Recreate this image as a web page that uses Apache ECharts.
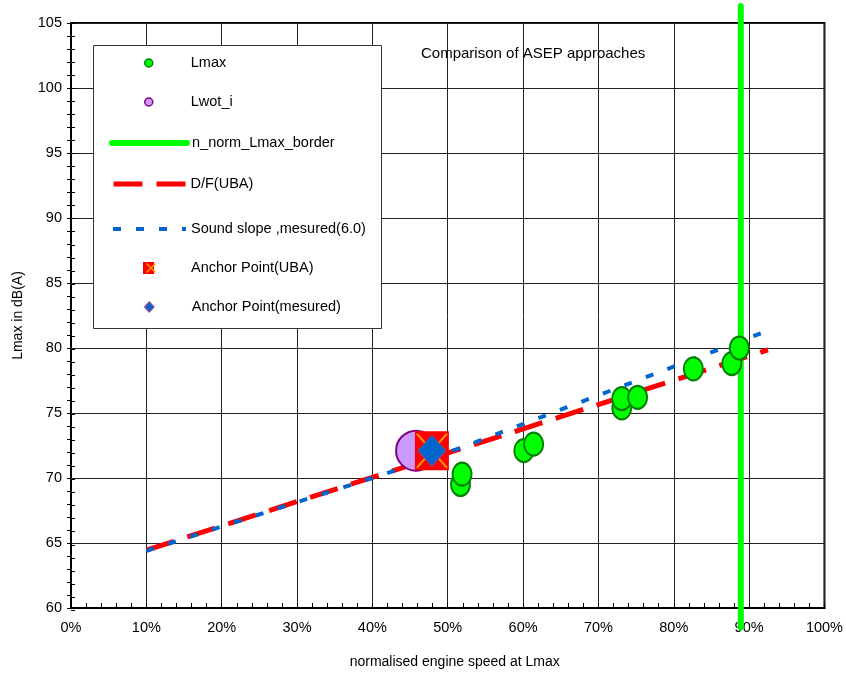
<!DOCTYPE html>
<html>
<head>
<meta charset="utf-8">
<script src="https://cdn.jsdelivr.net/npm/echarts@6/dist/echarts.min.js"></script>
<style>
  html, body { margin: 0; padding: 0; background: #fff; }
  #chart { width: 846px; height: 674px; }
</style>
</head>
<body>
<div id="chart"></div>
<script>
// x tick labels (normalised engine speed, %)
const xTickLabels = ['0%', '10%', '20%', '30%', '40%', '50%', '60%', '70%', '80%', '90%', '100%'];

// measured Lmax points [speed %, dB(A)]
const lmaxPoints = [
  [51.7, 69.5], [51.9, 70.3], [60.1, 72.1], [61.4, 72.6],
  [73.1, 75.4], [73.1, 76.1], [75.2, 76.2], [82.6, 78.4],
  [87.7, 78.8], [88.7, 80.0]
];
// wide open throttle point
const lwotPoints = [[45.8, 72.1]];
// n_norm Lmax border (vertical)
const borderLine = [[88.9, 58.5], [88.9, 106.3]];
// D/F (UBA) line
const ubaLine = [[10, 64.45], [92.5, 79.85]];
// measured sound slope
const slopeLine = [[10, 64.4], [48, 71.5], [92.8, 81.4]];
// anchor points
const anchorUba = [[47.9, 72.1]];
const anchorMeasured = [[47.9, 72.1]];

const FONT = '"Liberation Sans", Arial, sans-serif';
const chart = echarts.init(document.getElementById('chart'), null, { renderer: 'canvas' });

const gridBox = { left: 71, right: 21, top: 23, bottom: 64 };

const lineStyles = {
  border: { color: '#00ff00', width: 6, cap: 'round' },
  uba: { color: '#ff0000', width: 5, type: [29, 14], cap: 'butt' },
  slope: { color: '#0066cc', width: 4, type: [8, 15], cap: 'butt' }
};

// one legend per entry so each row sits at its own height
function legendAt(name, top, opts) {
  const base = {
    data: [name],
    left: 107,
    top: top,
    orient: 'horizontal',
    padding: 0,
    itemWidth: 80,
    itemHeight: 14,
    selectedMode: false,
    textStyle: { fontFamily: FONT, fontSize: 14.5, color: '#000', lineHeight: 16 }
  };
  const o = Object.assign(base, opts || {});
  if (opts && opts.textPad) {
    o.textStyle = Object.assign({}, base.textStyle, { padding: [0, 0, 0, opts.textPad] });
  }
  delete o.textPad;
  return o;
}

const option = {
  backgroundColor: '#fff',
  animation: false,
  title: {
    text: 'Comparison of ASEP approaches',
    left: 421,
    top: 46,
    padding: 0,
    textStyle: { fontFamily: FONT, fontSize: 15, fontWeight: 'normal', color: '#000' }
  },
  graphic: [{
    type: 'rect',
    left: 93, top: 45, z: 3,
    shape: { width: 288, height: 283 },
    style: { fill: '#fff', stroke: '#333', lineWidth: 1 }
  }],
  legend: [
    legendAt('Lmax', 55, {
      left: 144, itemWidth: 8, itemHeight: 8, textPad: 33,
      itemStyle: { borderWidth: 1.5 }
    }),
    legendAt('Lwot_i', 94, {
      left: 144, itemWidth: 8, itemHeight: 8, textPad: 33,
      itemStyle: { borderWidth: 1.5 }
    }),
    legendAt('n_norm_Lmax_border', 135, {
      left: 109, itemWidth: 75,
      lineStyle: lineStyles.border, itemStyle: { opacity: 0 }
    }),
    legendAt('D/F(UBA)', 176, {
      left: 111, itemWidth: 72,
      lineStyle: lineStyles.uba, itemStyle: { opacity: 0 }
    }),
    legendAt('Sound slope ,mesured(6.0)', 221, {
      left: 111, itemWidth: 73,
      lineStyle: lineStyles.slope, itemStyle: { opacity: 0 }
    }),
    legendAt('Anchor Point(UBA)', 260, {
      left: 143, itemWidth: 11, itemHeight: 12, textPad: 32
    }),
    // orange cross drawn over the red legend square
    legendAt('anchor cross', 261, {
      left: 144, itemWidth: 9, itemHeight: 10,
      formatter: () => '',
      itemStyle: { borderWidth: 1.5 }
    }),
    legendAt('Anchor Point(mesured)', 299, {
      left: 144, itemWidth: 9, itemHeight: 10, textPad: 33,
      itemStyle: { borderWidth: 1.5 }
    })
  ],
  grid: [
    Object.assign({ show: true, borderColor: '#000', borderWidth: 2, backgroundColor: '#fff' }, gridBox),
    Object.assign({ show: false }, gridBox)
  ],
  xAxis: [{
    type: 'value', gridIndex: 0,
    min: 0, max: 100, interval: 10,
    name: 'normalised engine speed at Lmax',
    nameLocation: 'middle', nameGap: 47,
    nameTextStyle: { fontFamily: FONT, fontSize: 14, color: '#000', padding: [0, 0, 0, 14] },
    axisLine: { show: true, onZero: false, lineStyle: { color: '#000', width: 2 } },
    axisTick: { show: true, inside: true, length: 5, lineStyle: { color: '#000' } },
    minorTick: { show: true, splitNumber: 5, length: 5, lineStyle: { color: '#000', width: 1 } },
    axisLabel: {
      margin: 12, fontFamily: FONT, fontSize: 14.5, color: '#000',
      formatter: v => xTickLabels[Math.round(v / 10)]
    },
    splitLine: { show: true, lineStyle: { color: '#222', width: 1 } }
  }, {
    type: 'value', gridIndex: 1, min: 0, max: 100, interval: 10, show: false
  }],
  yAxis: [{
    type: 'value', gridIndex: 0,
    min: 60, max: 105, interval: 5,
    name: 'Lmax in dB(A)',
    nameLocation: 'middle', nameGap: 46,
    nameTextStyle: { fontFamily: FONT, fontSize: 14, color: '#000' },
    axisLine: { show: true, onZero: false, lineStyle: { color: '#000', width: 2 } },
    axisTick: { show: true, inside: false, length: 4, lineStyle: { color: '#000' } },
    minorTick: { show: true, splitNumber: 5, length: 4, lineStyle: { color: '#000', width: 1 } },
    axisLabel: { margin: 9, fontFamily: FONT, fontSize: 14.5, color: '#000' },
    splitLine: { show: true, lineStyle: { color: '#222', width: 1 } }
  }, {
    // inner half of the crossing y ticks
    type: 'value', gridIndex: 1,
    min: 60, max: 105, interval: 5,
    axisLine: { show: false },
    axisTick: { show: true, inside: true, length: 4, lineStyle: { color: '#000' } },
    minorTick: { show: true, splitNumber: 5, length: 4, lineStyle: { color: '#000', width: 1 } },
    axisLabel: { show: false },
    splitLine: { show: false }
  }],
  series: [
    {
      name: 'Lmax', type: 'scatter', data: lmaxPoints, z: 6,
      symbol: 'circle', symbolSize: [19, 23],
      itemStyle: { color: '#00ff00', borderColor: '#008000', borderWidth: 2, opacity: 1 }
    },
    {
      name: 'Lwot_i', type: 'scatter', data: lwotPoints, z: 5,
      symbol: 'circle', symbolSize: 40,
      itemStyle: { color: '#cc99ff', borderColor: '#800080', borderWidth: 2, opacity: 1 }
    },
    {
      name: 'n_norm_Lmax_border', type: 'line', data: borderLine, z: 3,
      symbol: 'none', clip: false,
      itemStyle: { color: '#00ff00' },
      lineStyle: lineStyles.border
    },
    {
      name: 'D/F(UBA)', type: 'line', data: ubaLine, z: 3,
      symbol: 'none',
      itemStyle: { color: '#ff0000' },
      lineStyle: lineStyles.uba
    },
    {
      name: 'Sound slope ,mesured(6.0)', type: 'line', data: slopeLine, z: 4,
      symbol: 'none',
      itemStyle: { color: '#0066cc' },
      lineStyle: lineStyles.slope
    },
    {
      name: 'Anchor Point(UBA)', type: 'scatter', data: anchorUba, z: 7,
      symbol: 'rect', symbolSize: [34, 39],
      itemStyle: { color: '#ff0000', opacity: 1 }
    },
    {
      name: 'anchor cross', type: 'scatter', data: anchorUba, z: 8, silent: true,
      symbol: 'path://M0,0L10,10M10,0L0,10', symbolSize: [30, 34],
      itemStyle: { color: 'none', borderColor: '#ff9900', borderWidth: 2, opacity: 1 }
    },
    {
      name: 'Anchor Point(mesured)', type: 'scatter', data: anchorMeasured, z: 9,
      symbol: 'diamond', symbolSize: [28, 31],
      itemStyle: { color: '#0066cc', borderColor: '#7a4a9a', borderWidth: 1, opacity: 1 }
    }
  ]
};

chart.setOption(option);
</script>
</body>
</html>
